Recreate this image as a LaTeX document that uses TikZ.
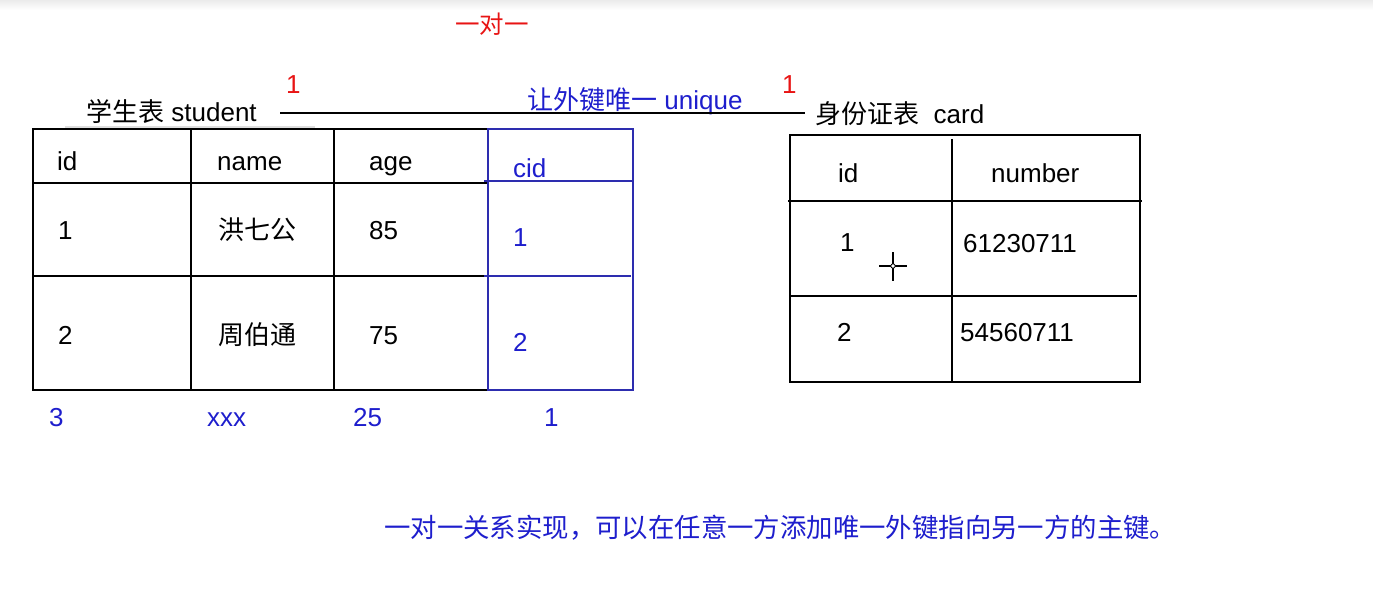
\documentclass[tikz,border=0pt]{standalone}
\usepackage{fontspec}
\setmainfont{Liberation Sans}
\newfontfamily\cjk{Noto Sans CJK SC}
\definecolor{tblue}{RGB}{30,30,205}
\definecolor{lblue}{RGB}{45,45,175}
\definecolor{tred}{RGB}{232,20,20}
\begin{document}
\begin{tikzpicture}[x=1pt,y=-1pt,
  txt/.style={inner sep=0pt, anchor=base west, font=\fontsize{26}{30}\selectfont},
  small/.style={inner sep=0pt, anchor=base west, font=\fontsize{24.5}{28}\selectfont},
  note/.style={inner sep=0pt, anchor=base west, font=\fontsize{26.4}{30}\selectfont},
  bk/.style={draw=black, line width=1.4pt},
  bl/.style={draw=lblue, line width=1.4pt}]
\useasboundingbox (0,0) rectangle (1373,599);
\fill[white] (0,0) rectangle (1373,599);
\fill[top color=black!8, bottom color=white] (0,0) rectangle (1373,10);

% headings
\node[small, text=tred] (title) at (455,34) {\cjk 一对一};
\node[txt, text=tred] (one1) at (286,94) {1};
\node[txt, text=tred] (one2) at (782,94) {1};
\node[txt] (stitle) at (86,122) {\cjk 学生表\normalfont{} student};
\node[txt, text=tblue] (uniq) at (527,110) {\cjk 让外键唯一\normalfont{} unique};
\node[txt] (ctitle) at (815,124) {\cjk 身份证表\normalfont{}\ \ card};
\draw[gray!25, line width=2pt] (65,127) -- (315,127);
\coordinate (ls) at (280,113);
\coordinate (le) at (805,113);
\draw[line width=1.2pt] (ls) -- (le);

% student table
\draw[bk] (488,129) -- (33,129) -- (33,390) -- (488,390);
\draw[bk] (191,129) -- (191,390);
\draw[bk] (334,129) -- (334,390);
\draw[bk] (33,183) -- (488,183);
\draw[bk] (33,276) -- (488,276);
\draw[bl] (488,129) rectangle (633,390);
\draw[bl] (484,181) -- (634,181);
\draw[bl] (484,276) -- (631,276);

\node[txt] (h1) at (57,170) {id};
\node[txt] (h2) at (217,170) {name};
\node[txt] (h3) at (369,170) {age};
\node[txt, text=tblue] (h4) at (513,177) {cid};
\node[txt] (r11) at (58,239) {1};
\node[txt] (r12) at (218,239) {\cjk 洪七公};
\node[txt] (r13) at (369,239) {85};
\node[txt, text=tblue] (r14) at (513,246) {1};
\node[txt] (r21) at (58,344) {2};
\node[txt] (r22) at (218,344) {\cjk 周伯通};
\node[txt] (r23) at (369,344) {75};
\node[txt, text=tblue] (r24) at (513,351) {2};
\node[txt, text=tblue] (n1) at (49,426) {3};
\node[txt, text=tblue] (n2) at (207,426) {xxx};
\node[txt, text=tblue] (n3) at (353,426) {25};
\node[txt, text=tblue] (n4) at (544,426) {1};

% card table
\draw[bk] (790,135) rectangle (1140,382);
\draw[bk] (952,139) -- (952,382);
\draw[bk] (788,201) -- (1142,201);
\draw[bk] (790,296) -- (1137,296);
\node[txt] (c1) at (838,182) {id};
\node[txt] (c2) at (991,182) {number};
\node[txt] (c11) at (840,251) {1};
\node[txt] (c12) at (963,252) {61230711};
\node[txt] (c21) at (837,341) {2};
\node[txt] (c22) at (960,341) {54560711};

% cursor
\draw[line width=1.2pt] (879,266) -- (907,266) (893,252) -- (893,281);
\draw[fill=white, line width=0.8pt] (893,266) circle (2.2);

% bottom note
\node[note, text=tblue] (note) at (384,537) {\cjk 一对一关系实现，可以在任意一方添加唯一外键指向另一方的主键。};
\end{tikzpicture}
\end{document}
